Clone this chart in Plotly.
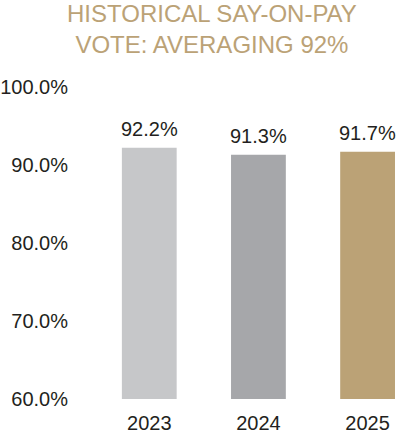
import plotly.graph_objects as go

years = ["2023", "2024", "2025"]
votes = [92.2, 91.3, 91.7]
bar_colors = ["#C6C7C9", "#A6A7AA", "#BBA276"]
y_ticks = [60, 70, 80, 90, 100]
title_lines = ["HISTORICAL SAY-ON-PAY", "VOTE: AVERAGING 92%"]

FONT = "Liberation Sans, Arial, sans-serif"
TXT = "#231F20"

fig = go.Figure(go.Bar(
    x=years, y=votes,
    marker=dict(color=bar_colors, line=dict(width=0)),
    width=0.502,
    cliponaxis=False,
    hoverinfo="x+y",
))

for i, v in enumerate(votes):
    fig.add_annotation(
        x=i, y=v, text=f"{v:.1f}%", showarrow=False,
        xanchor="center", yanchor="bottom", yshift=6,
        font=dict(family=FONT, size=20, color=TXT),
    )

fig.add_annotation(
    text="<br>".join(title_lines), showarrow=False,
    xref="paper", yref="paper", x=(212 - 76) / 321, y=1,
    xanchor="center", yanchor="bottom", yshift=27,
    font=dict(family=FONT, size=24, color="#BBA276"),
)

fig.update_layout(
    width=397, height=435,
    margin=dict(l=76, r=0, t=87, b=36, autoexpand=False),
    paper_bgcolor="white", plot_bgcolor="white",
    showlegend=False,
    xaxis=dict(
        type="category", range=[-0.6712, 2.2694], automargin=False,
        showgrid=False, zeroline=False, showline=False,
        ticks="outside", ticklen=6, tickcolor="rgba(0,0,0,0)",
        tickfont=dict(family=FONT, size=20, color=TXT),
    ),
    yaxis=dict(
        range=[60, 100], tickvals=y_ticks, automargin=False,
        ticktext=[f"{t:.1f}%" for t in y_ticks],
        showgrid=False, zeroline=False, showline=False,
        ticks="outside", ticklen=3, tickcolor="rgba(0,0,0,0)",
        tickfont=dict(family=FONT, size=20, color=TXT),
    ),
)

fig.write_html(
    "out.html",
    config={"displayModeBar": False},
    post_script="document.body.style.margin='0';document.body.style.overflow='hidden';",
)
